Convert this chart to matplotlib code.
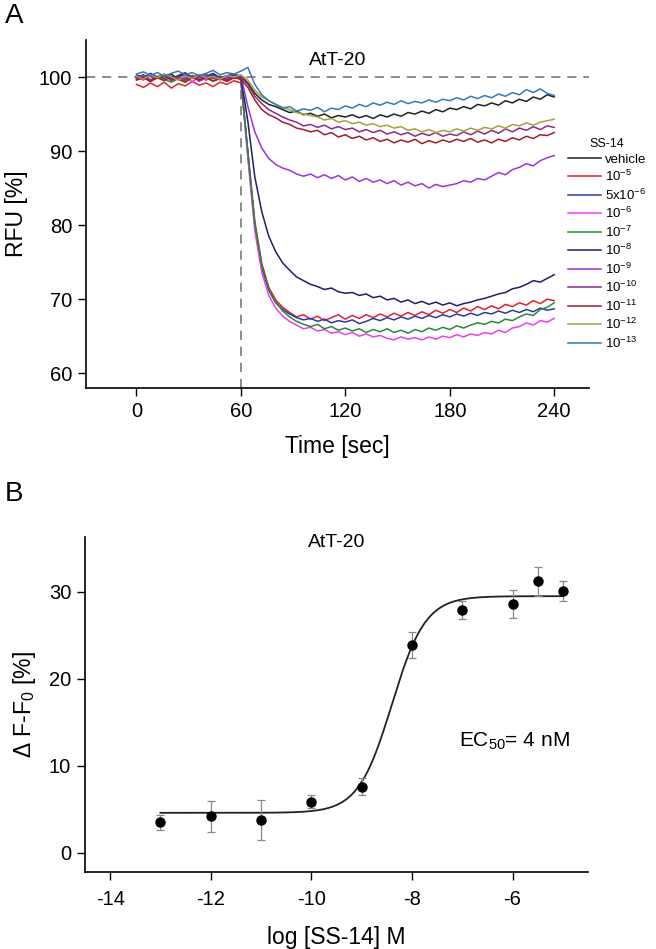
import numpy as np
import matplotlib
matplotlib.use("Agg")
import matplotlib.pyplot as plt

plt.rcParams['font.family'] = ['Liberation Sans', 'DejaVu Sans']
plt.rcParams['mathtext.fontset'] = 'custom'
plt.rcParams['mathtext.rm'] = 'Liberation Sans'
plt.rcParams['mathtext.it'] = 'Liberation Sans:italic'
plt.rcParams['axes.unicode_minus'] = False

# ---- panel A data: RFU traces, one sample every 4 s ----
time_sec = list(range(0, 241, 4))

trace_labels = ['vehicle', r'$10^{-5}$', r'$5\mathrm{x}10^{-6}$', r'$10^{-6}$', r'$10^{-7}$',
                r'$10^{-8}$', r'$10^{-9}$', r'$10^{-10}$', r'$10^{-11}$', r'$10^{-12}$', r'$10^{-13}$']
trace_colors = ['#222222', '#e8202a', '#2b3aa8', '#f03cf0', '#2a8a32', '#1c1f6e',
                '#9a32e6', '#8e2a86', '#a31c2a', '#a5a336', '#2f7cb8']

rfu_vehicle = [99.9, 100.3, 99.6, 100.1, 99.8, 100.4, 99.7, 100.2, 99.9, 100.3, 99.6, 100.1, 100.0, 99.7, 100.3, 100.1,
               99.2, 97.8, 96.9, 96.3, 96.0, 95.6, 95.2, 95.4, 94.9, 95.1,
               94.7, 95.0, 94.5, 94.8, 94.6, 94.9, 94.5, 94.8, 94.4, 94.9,
               94.6, 95.0, 94.7, 95.2, 95.0, 95.4, 95.1, 95.6, 95.3, 95.8,
               95.6, 96.0, 95.7, 96.3, 96.1, 96.5, 96.2, 96.8, 96.5, 97.0,
               96.7, 97.3, 97.0, 97.6, 97.3]
rfu_m5 = [99.0, 98.6, 99.2, 98.7, 99.3, 98.5, 99.1, 98.8, 99.4, 98.9, 99.2, 98.7, 99.3, 99.0, 99.5, 99.2,
          90.0, 80.5, 74.8, 71.6, 69.9, 68.9, 68.2, 67.6, 67.9, 67.3,
          67.7, 67.1, 67.5, 67.9, 67.3, 67.8, 67.4, 67.9, 67.5, 68.0,
          67.6, 68.1, 67.7, 68.2, 67.8, 68.3, 67.9, 68.5, 68.1, 68.6,
          68.2, 68.8, 68.4, 69.0, 68.6, 69.1, 68.7, 69.3, 69.0, 69.5,
          69.2, 69.8, 69.4, 70.0, 69.8]
rfu_5x6 = [100.3, 99.9, 100.5, 100.0, 100.4, 99.8, 100.2, 100.6, 99.9, 100.3, 100.1, 100.5, 99.9, 100.2, 100.4, 100.1,
           89.5, 79.8, 74.2, 71.2, 69.5, 68.6, 68.0, 67.5, 67.2, 67.4,
           67.0, 67.3, 66.8, 67.1, 66.9, 67.2, 66.7, 67.0, 67.4, 67.1,
           67.5, 67.2, 67.6, 67.3, 67.7, 67.4, 67.8, 67.5, 67.9, 67.6,
           68.0, 67.7, 68.1, 67.8, 68.2, 68.0, 68.4, 68.1, 68.5, 68.2,
           68.6, 68.3, 68.8, 68.5, 68.7]
rfu_m6 = [99.7, 100.1, 99.5, 99.9, 100.2, 99.6, 99.8, 100.0, 99.4, 99.9, 99.6, 100.1, 99.7, 99.9, 100.2, 99.8,
          89.0, 79.2, 73.6, 70.5, 68.8, 67.7, 67.0, 66.5, 66.0, 66.2,
          65.7, 65.9, 65.4, 65.6, 65.2, 65.5, 65.0, 65.3, 64.9, 65.1,
          64.7, 64.5, 64.9, 64.6, 64.8, 64.5, 64.9, 64.6, 65.0, 64.8,
          65.2, 64.9, 65.3, 65.1, 65.5, 65.3, 65.8, 65.5, 66.1, 66.3,
          66.8, 66.5, 67.1, 66.9, 67.4]
rfu_m7 = [99.6, 99.9, 99.4, 100.0, 99.7, 99.3, 99.8, 99.5, 100.1, 99.6, 99.9, 99.4, 99.8, 99.6, 100.0, 99.7,
          89.8, 80.2, 74.6, 71.4, 69.6, 68.4, 67.6, 67.0, 66.6, 66.3,
          66.6, 66.0, 66.3, 65.8, 66.1, 65.7, 66.0, 65.5, 65.9, 65.6,
          66.0, 65.5, 65.8, 65.4, 65.9, 65.6, 66.1, 65.8, 66.2, 65.9,
          66.4, 66.1, 66.5, 66.8, 66.6, 67.0, 66.8, 67.3, 67.1, 67.6,
          68.0, 67.8, 68.6, 68.9, 69.5]
rfu_m8 = [100.1, 99.8, 100.3, 99.9, 100.2, 99.7, 100.1, 100.4, 99.8, 100.2, 99.9, 100.3, 99.7, 100.0, 100.2, 99.9,
          94.0, 86.5, 81.8, 78.5, 76.4, 74.9, 73.9, 73.0, 72.5, 72.0,
          71.7, 71.3, 71.5, 71.0, 70.8, 70.9, 70.5, 70.7, 70.2, 70.4,
          69.9, 70.1, 69.6, 69.9, 69.4, 69.7, 69.3, 69.6, 69.2, 69.5,
          69.1, 69.4, 69.6, 69.9, 70.1, 70.4, 70.7, 70.9, 71.4, 71.6,
          72.0, 72.5, 72.3, 72.8, 73.3]
rfu_m9 = [99.8, 100.2, 99.5, 99.9, 100.3, 99.6, 100.0, 99.7, 100.2, 99.4, 99.9, 100.1, 99.6, 100.0, 99.8, 100.2,
          96.0, 92.6, 90.4, 89.0, 88.2, 87.7, 87.4, 86.9, 86.6, 86.9,
          86.4, 86.8, 86.3, 86.7, 86.1, 86.5, 85.9, 86.3, 85.8, 86.1,
          85.6, 86.0, 85.4, 85.8, 85.3, 85.6, 85.0, 85.5, 85.2, 85.4,
          85.6, 86.0, 85.8, 86.3, 86.1, 86.6, 87.1, 86.8, 87.5, 87.8,
          88.3, 88.0, 88.7, 89.1, 89.4]
rfu_m10 = [100.0, 99.6, 100.2, 99.8, 100.3, 99.5, 100.1, 99.7, 100.2, 99.9, 100.4, 99.8, 100.1, 99.6, 100.2, 100.0,
           99.0, 97.4, 96.4, 95.6, 95.1, 94.6, 94.2, 93.9, 93.4, 93.6,
           93.2, 93.5, 93.0, 93.3, 92.9, 93.1, 92.6, 92.9, 92.5, 92.8,
           92.3, 92.6, 92.2, 92.5, 92.0, 92.4, 92.1, 92.5, 92.0, 92.3,
           92.1, 92.6, 92.2, 92.7, 92.3, 92.8, 92.4, 93.0, 92.6, 93.1,
           92.8, 93.3, 92.9, 93.4, 93.2]
rfu_m11 = [99.6, 100.0, 99.4, 99.9, 99.5, 100.1, 99.7, 99.3, 99.9, 99.6, 100.0, 99.5, 99.8, 99.4, 99.9, 99.7,
           98.6, 96.9, 95.6, 94.9, 94.5, 93.9, 93.6, 93.1, 92.9, 92.6,
           92.8, 92.2, 92.5, 91.9, 92.2, 91.7, 92.0, 91.5, 91.8, 91.3,
           91.6, 91.1, 91.5, 91.2, 91.6, 91.0, 91.4, 91.1, 91.5, 91.2,
           91.6, 91.3, 91.7, 91.2, 91.5, 91.1, 91.6, 91.3, 91.8, 91.5,
           92.0, 91.7, 92.2, 92.1, 92.5]
rfu_m12 = [100.1, 99.7, 100.3, 99.9, 100.4, 100.0, 99.6, 100.2, 99.8, 100.3, 99.9, 100.1, 99.7, 100.2, 100.0, 100.3,
           99.6, 98.2, 97.3, 96.8, 96.3, 95.9, 95.6, 95.2, 95.0, 94.8,
           94.6, 94.2, 94.4, 93.9, 94.1, 93.7, 93.9, 93.5, 93.7, 93.3,
           93.5, 93.1, 93.3, 92.8, 93.0, 92.6, 92.9, 92.5, 92.8, 92.6,
           93.0, 92.7, 93.1, 92.8, 93.2, 93.0, 93.4, 93.1, 93.6, 93.4,
           93.8, 93.5, 93.9, 94.1, 94.3]
rfu_m13 = [100.4, 100.7, 100.2, 100.6, 100.1, 100.5, 100.8, 100.3, 100.6, 100.2, 100.5, 100.9, 100.3, 100.6, 100.4, 100.8,
           101.3, 99.0, 97.6, 96.8, 96.3, 95.8, 96.0, 95.4, 95.7, 95.5,
           95.9, 95.3, 95.8, 95.6, 96.1, 95.8, 96.3, 96.0, 96.5, 96.2,
           96.6, 96.3, 96.8, 96.4, 96.7, 96.5, 96.9, 96.6, 97.0, 96.8,
           97.2, 96.9, 97.4, 97.1, 97.5, 97.2, 97.7, 97.4, 97.9, 97.6,
           98.3, 97.9, 98.4, 97.8, 97.5]

traces = [rfu_vehicle, rfu_m5, rfu_5x6, rfu_m6, rfu_m7, rfu_m8,
          rfu_m9, rfu_m10, rfu_m11, rfu_m12, rfu_m13]

# ---- panel B data: dose response ----
log_conc = [-13, -12, -11, -10, -9, -8, -7, -6, -5.5, -5]
delta_f = [3.5, 4.2, 3.8, 5.9, 7.6, 23.9, 27.9, 28.6, 31.2, 30.1]
delta_err = [0.9, 1.8, 2.3, 0.7, 1.0, 1.5, 1.0, 1.6, 1.65, 1.1]
# fitted sigmoid
fit_bottom, fit_top, fit_logec50, fit_hill = 4.6, 29.5, -8.4, 1.3

fig = plt.figure(figsize=(6.56, 9.49), dpi=100)

# ---------- A ----------
axA = fig.add_axes([86/656, 1-388/949, 503/656, 348/949])
for y, c, lab in zip(traces, trace_colors, trace_labels):
    axA.plot(time_sec, y, color=c, lw=1.1, label=lab)
axA.axhline(100, color='#6e6e6e', lw=1.1, ls=(0, (6, 4.5)), zorder=0)
axA.plot([60, 60], [58, 100], color='#6e6e6e', lw=1.1, ls=(0, (6, 4.5)), zorder=0)
axA.set_xlim(-29, 260)
axA.set_ylim(58, 105)
axA.set_xticks([0, 60, 120, 180, 240])
axA.set_yticks([60, 70, 80, 90, 100])
axA.set_xlabel('Time [sec]', fontsize=16.5, labelpad=10)
axA.set_ylabel('RFU [%]', fontsize=16.5, labelpad=8)
axA.text(0.5, 0.94, 'AtT-20', transform=axA.transAxes, ha='center', va='center', fontsize=14)
leg = axA.legend(loc='upper left', bbox_to_anchor=(568/656, 1-138/949), bbox_transform=fig.transFigure,
                 frameon=False, fontsize=9.5, title='SS-14', title_fontsize=9,
                 handlelength=2.5, handletextpad=0.3, labelspacing=0.25, borderpad=0, borderaxespad=0)

# ---------- B ----------
axB = fig.add_axes([85/656, 1-872/949, 503/656, 335/949])
xs = np.linspace(-13, -5, 300)
ys = fit_bottom + (fit_top - fit_bottom) / (1 + 10 ** ((fit_logec50 - xs) * fit_hill))
axB.plot(xs, ys, color='#222222', lw=1.3)
axB.errorbar(log_conc, delta_f, yerr=delta_err, fmt='o', color='black', ms=6.5,
             ecolor='#888888', elinewidth=0.9, capsize=3, capthick=0.9)
axB.set_xlim(-14.5, -4.5)
axB.set_ylim(-2.2, 36.3)
axB.set_xticks([-14, -12, -10, -8, -6])
axB.set_yticks([0, 10, 20, 30])
axB.set_xlabel('log [SS-14] M', fontsize=16.5, labelpad=12)
axB.set_ylabel(r'$\Delta$ F-F$_0$ [%]', fontsize=16.5, labelpad=8)
axB.text(0.5, 0.985, 'AtT-20', transform=axB.transAxes, ha='center', va='center', fontsize=14)
axB.text(0.964, 0.39, r'EC$_{50}$= 4 nM', transform=axB.transAxes, ha='right', va='center', fontsize=15)

for ax in (axA, axB):
    for s in ('top', 'right'):
        ax.spines[s].set_visible(False)
    ax.spines['left'].set_linewidth(1.2)
    ax.spines['bottom'].set_linewidth(1.2)
    ax.tick_params(direction='out', length=6, width=1.0, labelsize=14.5, pad=4)
    ax.set_facecolor('none')
axB.tick_params(axis='x', pad=7)

fig.text(0.008, 0.997, 'A', fontsize=20, ha='left', va='top')
fig.text(0.008, 1-481/949, 'B', fontsize=20, ha='left', va='top')

fig.savefig('out.png', dpi=100)
